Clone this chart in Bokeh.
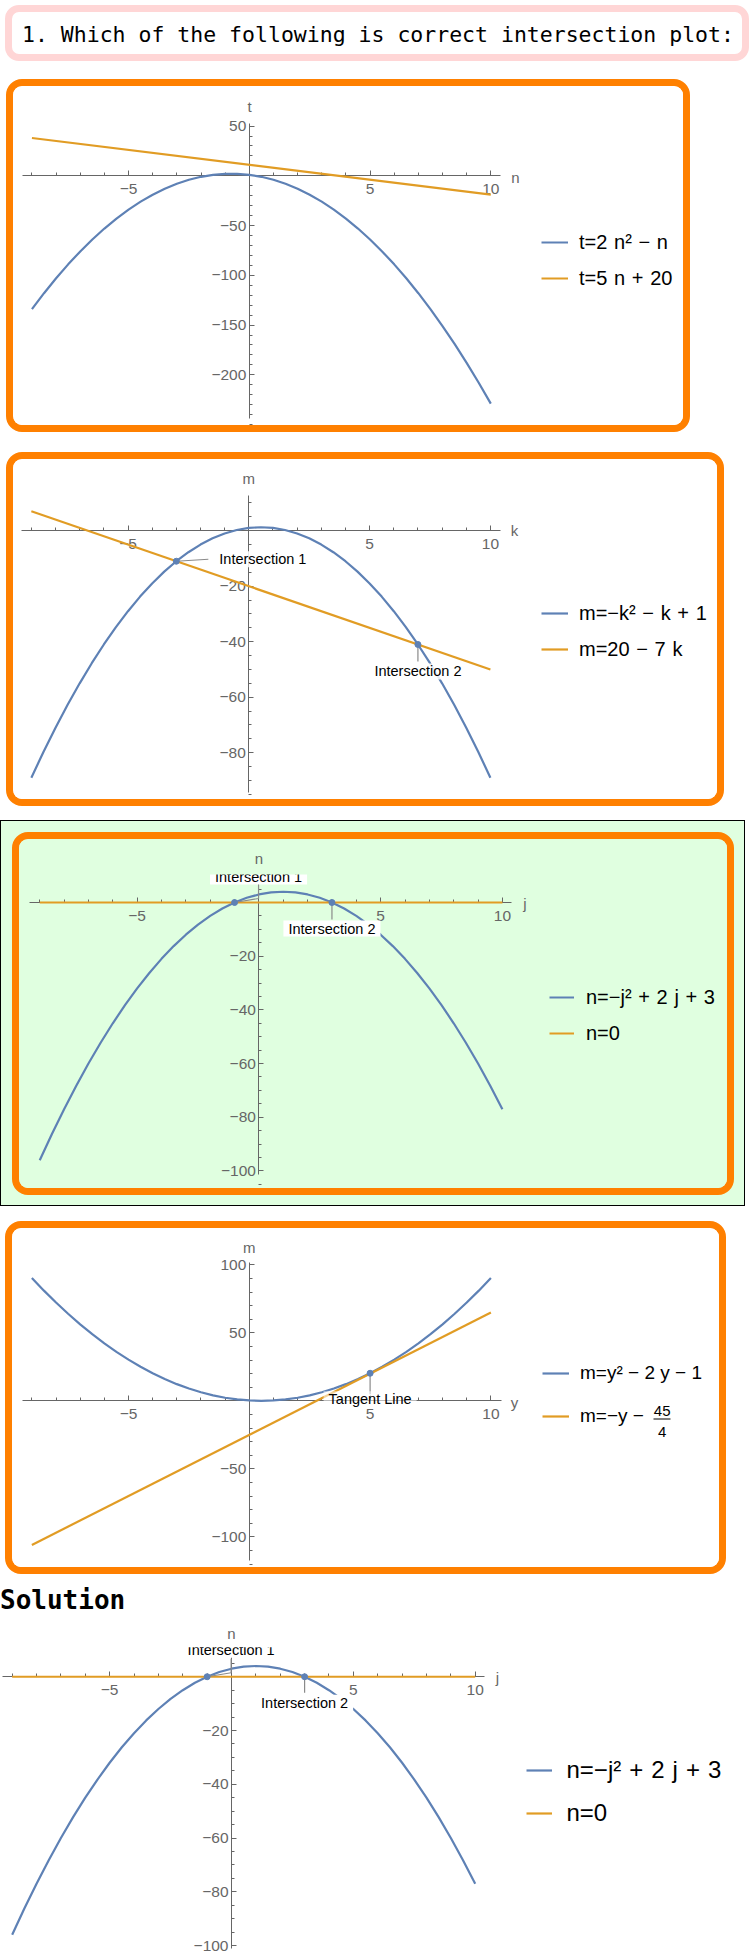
from bokeh.plotting import figure
from bokeh.models import FixedTicker, Legend, LegendItem, Div
from bokeh.layouts import column
from bokeh.embed import file_html
from bokeh.resources import INLINE
from bokeh.core.properties import value

BLUE = "#5E81B5"
ORANGE = "#E19C24"
AXIS = "#666666"
GREEN = "#E0FFE0"
FONT = "Liberation Sans"
SP = "\u2004"  # medium space used around operators in the legend formulas

TITLE = "1. Which of the following is correct intersection plot:"
SOLUTION = "Solution"

# shared x ticks
X_MAJOR = [-5, 5, 10]
X_MINOR = [-9, -8, -7, -6, -5, -4, -3, -2, -1, 0, 1, 2, 3, 4, 5, 6, 7, 8, 9, 10]
# sample positions along the horizontal axis
XS = [-9, -8.5, -8, -7.5, -7, -6.5, -6, -5.5, -5, -4.5, -4, -3.5, -3, -2.5, -2, -1.5, -1, -0.5,
      0, 0.5, 1, 1.5, 2, 2.5, 3, 3.5, 4, 4.5, 5, 5.5, 6, 6.5, 7, 7.5, 8, 8.5, 9, 9.5, 10]

# ---------- plot 1 ----------
P1_CURVE = [-134, -118, -103, -89, -76, -64, -53, -43, -34, -26, -19, -13, -8, -4, -1, 1, 2, 2,
            1, -1, -4, -8, -13, -19, -26, -34, -43, -53, -64, -76, -89, -103, -118, -134, -151,
            -169, -188, -208, -229]
P1_LINE_N = [-9, 10]
P1_LINE_T = [38, -19]
P1_LEGEND = ["t=2 n² − n", "t=5 n + 20"]
P1_YMAJOR = [-200, -150, -100, -50, 50]

# ---------- plot 2 ----------
P2_CURVE = [-89, -79.75, -71, -62.75, -55, -47.75, -41, -34.75, -29, -23.75, -19, -14.75, -11,
            -7.75, -5, -2.75, -1, 0.25, 1, 1.25, 1, 0.25, -1, -2.75, -5, -7.75, -11, -14.75,
            -19, -23.75, -29, -34.75, -41, -47.75, -55, -62.75, -71, -79.75, -89]
P2_LINE_K = [-9, 10]
P2_LINE_M = [7, -50]
P2_PTS_K = [-3, 7]
P2_PTS_M = [-11, -41]
P2_LEGEND = ["m=−k² − k + 1", "m=20 − 7 k"]
P2_YMAJOR = [-80, -60, -40, -20]

# ---------- plot 3 / solution ----------
P3_CURVE = [-96, -86.25, -77, -68.25, -60, -52.25, -45, -38.25, -32, -26.25, -21, -16.25, -12,
            -8.25, -5, -2.25, 0, 1.75, 3, 3.75, 4, 3.75, 3, 1.75, 0, -2.25, -5, -8.25, -12,
            -16.25, -21, -26.25, -32, -38.25, -45, -52.25, -60, -68.25, -77]
P3_LINE_J = [-9, 10]
P3_LINE_N = [0, 0]
P3_PTS_J = [-1, 3]
P3_PTS_N = [0, 0]
P3_LEGEND = ["n=−j² + 2 j + 3", "n=0"]
P3_YMAJOR = [-100, -80, -60, -40, -20]

# ---------- plot 4 ----------
P4_CURVE = [90.25, 81, 72.25, 64, 56.25, 49, 42.25, 36, 30.25, 25, 20.25, 16, 12.25, 9, 6.25, 4,
            2.25, 1, 0.25, 0, 0.25, 1, 2.25, 4, 6.25, 9, 12.25, 16, 20.25, 25, 30.25, 36, 42.25,
            49, 56.25, 64, 72.25, 81, 90.25]
P4_LINE_Y = [-9, 10]
P4_LINE_M = [-106, 65]
P4_PTS_Y = [5]
P4_PTS_M = [20.25]
P4_LEGEND = ["m=y² − 2 y − 1", "m=−y − "]
P4_FRAC = ["45", "4"]
P4_YMAJOR = [-100, -50, 50, 100]


def lab(v):
    return str(v).replace("-", "−")


def wide(s):
    return s.replace(" ", SP)


def make_plot(w, h, origin, ppx, ppy, xb, yb, names, ymajor, ystep,
              cy, lx, ly, labels, leg, pts=None, callouts=(), bg="white",
              legend_size="20px", cover=None):
    ox, oy = origin
    xr = (-ox / ppx, (w - ox) / ppx)
    yr = (-(h - oy) / ppy, oy / ppy)
    P = lambda px, py: ((px - ox) / ppx, (oy - py) / ppy)

    p = figure(width=w, height=h, x_range=xr, y_range=yr, output_backend="svg",
               toolbar_location=None, min_border=0, background_fill_color=bg,
               border_fill_color=bg, outline_line_color=None)
    p.grid.visible = False

    p.xaxis.fixed_location = 0
    p.yaxis.fixed_location = 0
    p.xaxis.bounds = xb
    p.yaxis.bounds = yb
    p.xaxis.ticker = FixedTicker(ticks=X_MAJOR, minor_ticks=X_MINOR)
    p.xaxis.major_label_overrides = {v: lab(v) for v in X_MAJOR}
    ymin = int(yb[0] // ystep) * ystep
    p.yaxis.ticker = FixedTicker(ticks=ymajor,
                                 minor_ticks=list(range(ymin, int(yb[1]) + 1, ystep)))
    p.yaxis.major_label_overrides = {v: lab(v) for v in ymajor}
    for ax in (p.xaxis[0], p.yaxis[0]):
        ax.axis_line_color = AXIS
        ax.axis_line_width = 1
        ax.major_tick_line_color = AXIS
        ax.minor_tick_line_color = AXIS
        ax.major_tick_in = 5
        ax.major_tick_out = 0
        ax.minor_tick_in = 3
        ax.minor_tick_out = 0
        ax.major_label_text_color = AXIS
        ax.major_label_text_font = FONT
        ax.major_label_text_font_size = "15.5px"
    p.xaxis.major_label_standoff = 8
    p.yaxis.major_label_standoff = 3

    r1 = p.line(XS, cy, line_color=BLUE, line_width=2.2, level="overlay")
    r2 = p.line(lx, ly, line_color=ORANGE, line_width=2.2, level="overlay")

    # callouts
    for c in callouts:
        x0, y0 = c["pt"]
        xs = [x0 + dx / ppx for dx, dy in c["path"]]
        ys = [y0 - dy / ppy for dx, dy in c["path"]]
        p.line(xs, ys, line_color="#8a8a8a", line_width=1.2, level="overlay")
        p.text(x=[x0], y=[y0], text=[c["text"]], x_offset=c["toff"][0], y_offset=c["toff"][1],
               text_align=c["align"], text_baseline="middle", text_font=value(FONT),
               text_font_size="14.5px", text_color="black",
               background_fill_color="white", background_fill_alpha=c.get("bga", 0.85),
               padding=dict(left=5, right=5, top=0, bottom=0), level="overlay")
    if pts is not None:
        p.scatter(pts[0], pts[1], size=6, color=BLUE, level="overlay")

    # the frame edge of the original chart cuts the upper label
    if cover is not None:
        (cx0, cy0), (cx1, cy1) = P(cover[0], cover[1]), P(cover[2], cover[3])
        p.quad(left=[cx0], right=[cx1], top=[cy0], bottom=[cy1], fill_color=bg,
               line_color=None, level="overlay")

    # axis names
    for txt, (px, py) in zip(names[0], names[1]):
        x, y = P(px, py)
        p.text(x=[x], y=[y], text=[txt], text_align="center", text_baseline="middle",
               text_color=AXIS, text_font=value(FONT), text_font_size="15px", level="overlay")

    gx, gy, gw, sto, rowh, sp = leg
    legend = Legend(items=[LegendItem(label=labels[0], renderers=[r1]),
                           LegendItem(label=labels[1], renderers=[r2])],
                    location=(gx, gy), orientation="vertical", padding=0, margin=0,
                    border_line_color=None, background_fill_alpha=0,
                    label_text_font=FONT, label_text_font_size=legend_size,
                    label_text_color="black", glyph_width=gw, glyph_height=rowh,
                    label_height=rowh, spacing=sp, label_standoff=sto)
    p.add_layout(legend)
    p._P = P
    return p


# ---- plot 1 ----  canvas at (13, 86)
p1 = make_plot(670, 339, (235.8, 89.3), 24.15, 0.995, (-9.4, 10.42), (-244.2, 52.3),
               (["t", "n"], [(236, 20), (502, 90.7)]), P1_YMAJOR, 10,
               P1_CURVE, P1_LINE_N, P1_LINE_T, [wide(s) for s in P1_LEGEND],
               (528, 135, 27, 11, 24, 12))

# ---- plot 2 ----  canvas at (13, 459)
p2 = make_plot(704, 340, (235.3, 71.2), 24.16, 2.775, (-9.4, 10.42), (-94.2, 12.7),
               (["m", "k"], [(235.3, 19.3), (501, 71)]), P2_YMAJOR, 5,
               P2_CURVE, P2_LINE_K, P2_LINE_M, [wide(s) for s in P2_LEGEND],
               (528, 138, 27, 11, 24, 12),
               pts=(P2_PTS_K, P2_PTS_M),
               callouts=[
                   {"pt": (P2_PTS_K[0], P2_PTS_M[0]), "text": "Intersection 1", "toff": (38, -2),
                    "align": "left", "path": [(0, 0), (32, -2)]},
                   {"pt": (P2_PTS_K[1], P2_PTS_M[1]), "text": "Intersection 2", "toff": (0, 27),
                    "align": "center", "path": [(0, 0), (0, 17)]},
               ])

# ---- plot 3 ----  canvas at (19, 839)
p3 = make_plot(708, 349, (239.4, 63), 24.35, 2.684, (-9.42, 10.37), (-101.3, 10.43),
               (["n", "j"], [(239.3, 19.3), (505.5, 64.3)]), P3_YMAJOR, 5,
               P3_CURVE, P3_LINE_J, P3_LINE_N, [wide(s) for s in P3_LEGEND],
               (530, 143, 25, 12, 24, 12), bg=GREEN,
               pts=(P3_PTS_J, P3_PTS_N),
               callouts=[
                   {"pt": (P3_PTS_J[0], P3_PTS_N[0]), "text": "Intersection 1", "toff": (24, -26),
                    "align": "center", "path": [(0, 0), (24, -4), (24, -18)], "bga": 1},
                   {"pt": (P3_PTS_J[1], P3_PTS_N[1]), "text": "Intersection 2", "toff": (0, 26),
                    "align": "center", "path": [(0, 0), (0, 17)], "bga": 1},
               ],
               cover=(185, 26, 292, 35))

# ---- plot 4 ----  canvas at (12, 1228)
p4 = make_plot(707, 339, (236.8, 172.3), 24.16, 1.36, (-9.4, 10.42), (-117.4, 101.5),
               (["m", "y"], [(236.8, 18.7), (502, 173.7)]), P4_YMAJOR, 10,
               P4_CURVE, P4_LINE_Y, P4_LINE_M, P4_LEGEND, (530, 139, 27, 11, 24, 19),
               legend_size="19px",
               pts=(P4_PTS_Y, P4_PTS_M),
               callouts=[
                   {"pt": (P4_PTS_Y[0], P4_PTS_M[0]), "text": "Tangent Line", "toff": (0, 26),
                    "align": "center", "path": [(0, 0), (0, 21)], "bga": 0.55},
               ])
# stacked fraction of the second legend entry
(fx0, fy_num), (_, fy_den) = p4._P(649.7, 182.5), p4._P(649.7, 203)
(bx0, by0), (bx1, _) = p4._P(641, 190.5), p4._P(658, 190.5)
p4.text(x=[fx0, fx0], y=[fy_num, fy_den], text=P4_FRAC, text_align="center",
        text_baseline="middle", text_font=value(FONT), text_font_size="15px",
        text_color="black", level="overlay")
p4.segment(x0=[bx0], y0=[by0], x1=[bx1], y1=[by0], line_color="black", line_width=1,
           level="overlay")

# ---- plot 5 (solution) ----  canvas at (0, 1620)
p5 = make_plot(755, 336, (231, 56.25), 24.37, 2.6875, (-9.39, 10.37), (-101.2, 11.0),
               (["n", "j"], [(231, 13.3), (497, 57.3)]), P3_YMAJOR, 5,
               P3_CURVE, P3_LINE_J, P3_LINE_N, [wide(s) for s in P3_LEGEND],
               (525.5, 129, 26, 15, 28, 15), legend_size="24px",
               pts=(P3_PTS_J, P3_PTS_N),
               callouts=[
                   {"pt": (P3_PTS_J[0], P3_PTS_N[0]), "text": "Intersection 1", "toff": (24, -27),
                    "align": "center", "path": [(0, 0), (24, -4), (24, -18)], "bga": 1},
                   {"pt": (P3_PTS_J[1], P3_PTS_N[1]), "text": "Intersection 2", "toff": (0, 26),
                    "align": "center", "path": [(0, 0), (0, 16)], "bga": 1},
               ],
               cover=(177, 18, 285, 26.7))

title_div = Div(text=(
    '<div style="margin:5px 0 0 5px;width:744px;height:56px;box-sizing:border-box;'
    'border:7px solid #FFD6D6;border-radius:14px;padding:11px 0 0 10px;'
    "font-family:'DejaVu Sans Mono',monospace;font-size:21.5px;line-height:24px;"
    'color:#000;white-space:nowrap;">' + TITLE + '</div>'), width=755, height=66, margin=0)

sol_div = Div(text=(
    '<div style="padding:11px 0 0 0;font-family:\'DejaVu Sans Mono\',monospace;'
    'font-weight:bold;font-size:26px;line-height:30px;color:#000;">' + SOLUTION + '</div>'),
    width=200, height=46, margin=0)

CARD = {"border": "7px solid #FF8000", "border-radius": "16px", "overflow": "hidden"}

card1 = column(p1, styles=CARD, margin=(13, 0, 0, 6))
card2 = column(p2, styles=CARD, margin=(20, 0, 0, 6))
card3 = column(p3, styles=dict(CARD, **{"background-color": GREEN}))
green = column(card3, styles={"border": "1px solid black", "background-color": GREEN,
                              "padding": "11px 10px 10px 11px"}, margin=(14, 0, 0, 0))
card4 = column(p4, styles=CARD, margin=(15, 0, 0, 5))

root = column(title_div, card1, card2, green, card4, sol_div, p5, spacing=0)

open("out.html", "w").write(file_html(root, INLINE))
